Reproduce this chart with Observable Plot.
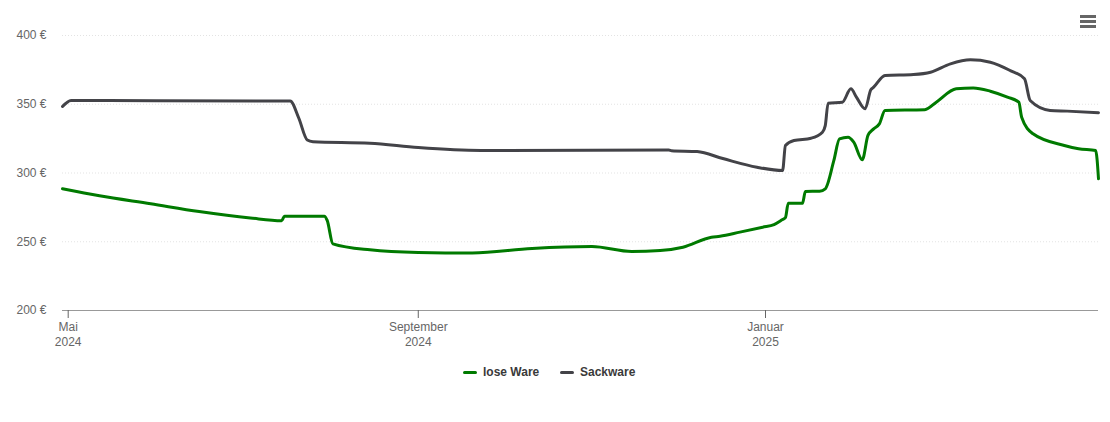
<!DOCTYPE html>
<html>
<head>
<meta charset="utf-8">
<script src="https://cdn.jsdelivr.net/npm/d3@7"></script>
<script src="https://cdn.jsdelivr.net/npm/@observablehq/plot@0.6"></script>
<style>
  html, body { margin: 0; padding: 0; background: #fff; }
  body { font-family: "Liberation Sans", Arial, sans-serif; width: 1110px; height: 422px; position: relative; overflow: hidden; }
  #chart { position: absolute; left: 0; top: 0; }
  #legend { position: absolute; left: 0; top: 362px; width: 1110px; height: 20px; }
  .item { position: absolute; top: 0; height: 20px; display: flex; align-items: center; font-size: 12px; font-weight: bold; color: #3a3a3a; }
  .swatch { width: 14px; height: 3px; border-radius: 1.5px; margin-right: 6px; }
  #menu { position: absolute; left: 1079px; top: 14px; }
</style>
</head>
<body>
<div id="chart"></div>
<div id="legend"></div>
<svg id="menu" width="18" height="16">
  <rect x="1" y="1" width="16" height="3" fill="#666"></rect>
  <rect x="1" y="6" width="16" height="3" fill="#666"></rect>
  <rect x="1" y="11" width="16" height="3" fill="#666"></rect>
</svg>
<script>
// Series names and colours
const seriesNames = ["lose Ware", "Sackware"];
const seriesColors = ["#007a00", "#434348"];

// lose Ware (green)
const loseDates = [
  "2024-04-29","2024-05-12","2024-05-30","2024-06-16","2024-07-04","2024-07-15","2024-07-16","2024-07-30","2024-07-31",
  "2024-08-02","2024-08-15","2024-09-01","2024-09-20","2024-10-11","2024-11-01","2024-11-15","2024-11-25",
  "2024-12-03","2024-12-13","2024-12-16","2024-12-23","2024-12-31","2025-01-04","2025-01-07","2025-01-08",
  "2025-01-09","2025-01-14","2025-01-15","2025-01-20","2025-01-22","2025-01-25","2025-01-27","2025-01-30",
  "2025-02-01","2025-02-04","2025-02-06","2025-02-08","2025-02-10","2025-02-12","2025-02-26","2025-03-02",
  "2025-03-09","2025-03-15","2025-03-21","2025-03-27","2025-03-31","2025-04-01","2025-04-05","2025-04-16",
  "2025-04-21","2025-04-27","2025-04-28"
];
const loseValues = [
  288.5,283.4,277.6,272.0,267.3,265.3,268.6,268.6,265.5,
  248.5,244.1,242.2,241.8,245.1,246.5,242.9,243.6,
  246.0,253.3,254.0,257.0,260.6,262.5,266.2,267.5,
  278.0,278.0,286.5,286.8,288.5,309.0,324.8,326.0,
  322.4,309.6,327.3,332.1,335.7,345.5,346.0,351.5,
  361.2,361.9,359.5,355.2,351.5,340.6,328.5,320.0,
  317.6,316.4,295.8
];

// Sackware (dark grey)
const sackDates = [
  "2024-04-29","2024-05-02","2024-06-01","2024-07-18","2024-07-21","2024-07-24","2024-07-26","2024-08-15",
  "2024-09-01","2024-09-23","2024-11-28","2024-11-29","2024-12-08","2024-12-17","2024-12-29","2025-01-07",
  "2025-01-08","2025-01-11","2025-01-17","2025-01-21","2025-01-22","2025-01-23","2025-01-28","2025-01-31",
  "2025-02-02","2025-02-05","2025-02-07","2025-02-08","2025-02-12","2025-02-22","2025-02-28","2025-03-07",
  "2025-03-14","2025-03-21","2025-03-28","2025-04-02","2025-04-04","2025-04-11","2025-04-17","2025-04-28"
];
const sackValues = [
  348.4,352.8,352.5,352.4,340.0,324.0,322.8,321.7,
  318.5,316.4,316.7,316.2,315.6,310.5,304.2,301.8,
  320.0,323.6,325.3,329.7,334.5,350.8,351.5,361.2,
  355.0,346.7,360.5,362.4,370.9,371.6,373.3,379.4,
  382.3,380.6,374.5,368.5,352.7,345.5,345.0,343.8
];

// Axis ticks
const yTicks = [200, 250, 300, 350, 400];
const xTickDates = ["2024-05-01", "2024-09-01", "2025-01-01"];
const xTickLabels = ["Mai\n2024", "September\n2024", "Januar\n2025"];
const xDomain = ["2024-04-29", "2025-04-28"];

const rows = [
  ...loseDates.map((d, i) => ({date: new Date(d), value: loseValues[i], series: seriesNames[0]})),
  ...sackDates.map((d, i) => ({date: new Date(d), value: sackValues[i], series: seriesNames[1]}))
];
const xTicks = xTickDates.map(d => new Date(d));
const labelOf = new Map(xTicks.map((d, i) => [+d, xTickLabels[i]]));

const chart = Plot.plot({
  width: 1110,
  height: 350,
  marginLeft: 62,
  marginRight: 12,
  marginTop: 35,
  marginBottom: 40,
  style: {fontFamily: "'Liberation Sans', Arial, sans-serif", fontSize: "12px", background: "#fff"},
  x: {type: "utc", domain: xDomain.map(d => new Date(d))},
  y: {domain: [200, 400]},
  color: {domain: seriesNames, range: seriesColors},
  marks: [
    Plot.gridY(yTicks.slice(1), {stroke: "#e3e3e3", strokeOpacity: 1, strokeDasharray: "1,2"}),
    Plot.axisY(yTicks, {tickSize: 0, tickPadding: 16, tickFormat: d => d + " €", fontSize: 12, color: "#666", label: null}),
    Plot.ruleY([200], {stroke: "#999", strokeWidth: 1.2}),
    Plot.axisX(xTicks, {tickSize: 8, tickPadding: 2, tickFormat: d => labelOf.get(+d), fontSize: 12, lineHeight: 1.25, color: "#666", stroke: "#666", label: null}),
    Plot.line(rows, {x: "date", y: "value", z: "series", stroke: "series", strokeWidth: 3, curve: "monotone-x"})
  ]
});
document.getElementById("chart").appendChild(chart);

// Legend
const legend = document.getElementById("legend");
const legendLeft = [463, 560];
seriesNames.forEach((name, i) => {
  const item = document.createElement("div");
  item.className = "item";
  item.style.left = legendLeft[i] + "px";
  const sw = document.createElement("div");
  sw.className = "swatch";
  sw.style.background = seriesColors[i];
  item.appendChild(sw);
  item.appendChild(document.createTextNode(name));
  legend.appendChild(item);
});
</script>
</body>
</html>
